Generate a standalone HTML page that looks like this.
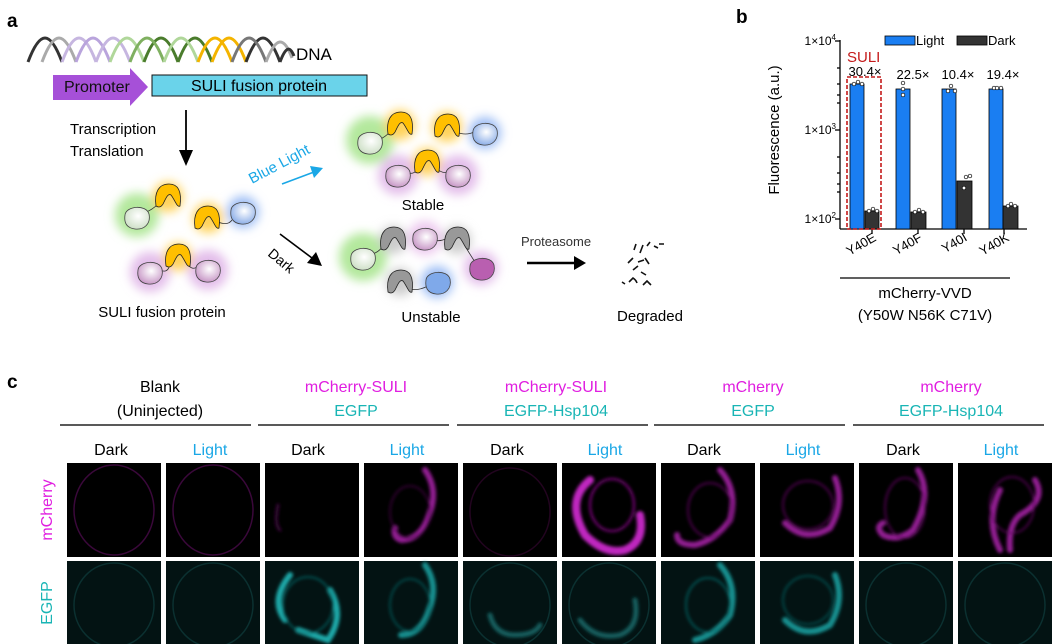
<!DOCTYPE html>
<html><head><meta charset="utf-8"><style>
html,body{margin:0;padding:0;background:#fff}
svg{display:block}
text{font-family:"Liberation Sans",Arial,sans-serif}
</style></head><body>
<svg width="1056" height="644" viewBox="0 0 1056 644" xmlns="http://www.w3.org/2000/svg">
<defs>
<filter id="g" x="-1" y="-1" width="3" height="3"><feGaussianBlur stdDeviation="5"/></filter>
<filter id="b1" x="-1" y="-1" width="3" height="3"><feGaussianBlur stdDeviation="1.5"/></filter>
<radialGradient id="wg" cx="0.55" cy="0.4" r="0.6"><stop offset="0" stop-color="#fff"/><stop offset="1" stop-color="#cfe0c8"/></radialGradient>
<radialGradient id="pg" cx="0.55" cy="0.4" r="0.6"><stop offset="0" stop-color="#fff"/><stop offset="1" stop-color="#c99ac8"/></radialGradient>
<radialGradient id="bg" cx="0.55" cy="0.4" r="0.6"><stop offset="0" stop-color="#fff"/><stop offset="1" stop-color="#8fb0e8"/></radialGradient>
<path id="V" d="M-12,10 C-14,-4 -9,-12 1,-12 C10,-12 14,-5 12,10 C9,12 7,4 3,-1 C0,-3 -2,2 -4,6 C-6,11 -9,12 -12,10Z" stroke="#222" stroke-width="0.8"/>
<path id="C" d="M-12,-2 C-11,-11 9,-13 12,-3 C14,7 7,13 -2,12 C-11,11 -13,5 -12,-2Z" stroke="#444" stroke-width="0.8"/>
</defs>

<text x="7" y="27" font-size="19" font-weight="bold">a</text>
<g fill="none" stroke-width="3">
<path d="M28,62 C40,30 50,30 62,62" stroke="#333"/><path d="M42,62 C54,30 64,30 76,62" stroke="#aaa"/>
<path d="M62,62 C74,30 84,30 96,62" stroke="#c6b6e0"/><path d="M76,62 C88,30 98,30 110,62" stroke="#b9a4dc"/>
<path d="M96,62 C108,30 118,30 130,62" stroke="#c6b6e0"/><path d="M110,62 C122,30 132,30 144,62" stroke="#b0d79a"/>
<path d="M144,62 C156,30 166,30 178,62" stroke="#4a7c2c"/><path d="M130,62 C142,30 152,30 164,62" stroke="#7fb060"/>
<path d="M178,62 C190,30 200,30 212,62" stroke="#4a7c2c"/><path d="M164,62 C176,30 186,30 198,62" stroke="#b0d79a"/>
<path d="M212,62 C224,30 234,30 246,62" stroke="#f4b400"/><path d="M198,62 C210,30 220,30 232,62" stroke="#f4b400"/>
<path d="M246,62 C258,30 268,30 280,62" stroke="#333"/><path d="M232,62 C244,30 254,30 266,62" stroke="#777"/>
<path d="M266,62 C276,36 284,36 292,58" stroke="#aaa"/><path d="M280,62 C286,46 290,46 294,56" stroke="#333"/>
</g>
<text x="296" y="60" font-size="17">DNA</text>
<polygon points="53,75 130,75 130,68 148,87 130,106 130,100 53,100" fill="#a650d8"/>
<text x="64" y="92" font-size="16" fill="#111">Promoter</text>
<rect x="152" y="75" width="215" height="21" fill="#6ad3ea" stroke="#111" stroke-width="1"/>
<text x="259" y="91" font-size="16" text-anchor="middle">SULI fusion protein</text>
<text x="70" y="134" font-size="15">Transcription</text>
<text x="70" y="156" font-size="15">Translation</text>
<line x1="186" y1="110" x2="186" y2="152" stroke="#000" stroke-width="1.8"/><polygon points="179,150 193,150 186,166" fill="#000"/>

<g filter="url(#g)">
<circle cx="137" cy="215" r="22" fill="#b3e89c"/><circle cx="168" cy="197" r="15" fill="#ffd35c"/>
<circle cx="208" cy="218" r="15" fill="#ffd35c"/><circle cx="243" cy="212" r="16" fill="#9dbdf5"/>
<circle cx="150" cy="272" r="20" fill="#e3bdea"/><circle cx="178" cy="257" r="14" fill="#ffd35c"/><circle cx="208" cy="270" r="20" fill="#e3bdea"/>
<circle cx="370" cy="140" r="24" fill="#b3e89c"/><circle cx="400" cy="125" r="15" fill="#ffd35c"/><circle cx="447" cy="127" r="15" fill="#ffd35c"/><circle cx="485" cy="133" r="16" fill="#9dbdf5"/>
<circle cx="398" cy="175" r="20" fill="#e3bdea"/><circle cx="427" cy="162" r="14" fill="#ffd35c"/><circle cx="458" cy="175" r="20" fill="#e3bdea"/>
<circle cx="363" cy="257" r="24" fill="#b3e89c"/><circle cx="393" cy="240" r="14" fill="#ccc"/><circle cx="425" cy="238" r="17" fill="#ecc8ee"/><circle cx="457" cy="240" r="14" fill="#ccc"/><circle cx="481" cy="268" r="17" fill="#e3bdea"/>
<circle cx="400" cy="282" r="14" fill="#ccc"/><circle cx="437" cy="282" r="16" fill="#9dbdf5"/>
</g>
<g>
<path d="M146,212 q6,-2 12,-8 M218,222 q10,4 14,-2 M160,270 q8,4 10,-6 M186,262 q6,10 12,4" stroke="#333" fill="none" stroke-width="0.8"/>
<use href="#C" x="137" y="217" fill="url(#wg)"/><use href="#V" x="168" y="196" fill="#ffbf00"/>
<use href="#V" x="207" y="218" fill="#ffbf00"/><use href="#C" x="243" y="212" fill="url(#bg)"/>
<use href="#C" x="150" y="272" fill="url(#pg)"/><use href="#V" x="178" y="256" fill="#ffbf00"/><use href="#C" x="208" y="270" fill="url(#pg)"/>
<path d="M378,140 q6,-2 12,-8 M456,132 q10,4 18,0 M406,172 q8,4 12,-4 M436,168 q6,6 12,4" stroke="#333" fill="none" stroke-width="0.8"/>
<use href="#C" x="370" y="142" fill="url(#wg)"/><use href="#V" x="400" y="124" fill="#ffbf00"/><use href="#V" x="447" y="126" fill="#ffbf00"/><use href="#C" x="485" y="133" fill="url(#bg)"/>
<use href="#C" x="398" y="175" fill="url(#pg)"/><use href="#V" x="427" y="162" fill="#ffbf00"/><use href="#C" x="458" y="175" fill="url(#pg)"/>
<path d="M372,254 q8,-2 12,-10 M433,240 q8,2 14,-2 M465,246 q6,10 10,16 M408,288 q8,4 20,-2" stroke="#333" fill="none" stroke-width="0.8"/>
<use href="#C" x="363" y="258" fill="url(#wg)"/><use href="#V" x="393" y="239" fill="#999"/><use href="#C" x="425" y="238" fill="url(#pg)"/><use href="#V" x="457" y="239" fill="#999"/>
<use href="#C" x="482" y="268" fill="#b95fb0"/><use href="#V" x="400" y="282" fill="#999"/><use href="#C" x="438" y="282" fill="#7fa9ea"/>
</g>
<text x="162" y="317" font-size="15" text-anchor="middle">SULI fusion protein</text>
<text x="423" y="210" font-size="15" text-anchor="middle">Stable</text>
<text x="431" y="322" font-size="15" text-anchor="middle">Unstable</text>
<text x="0" y="0" font-size="15" fill="#1aa7e6" transform="translate(252,184) rotate(-28)">Blue Light</text>
<line x1="282" y1="184" x2="314" y2="172" stroke="#1aa7e6" stroke-width="1.6"/><polygon points="323,168 310,166 314,178" fill="#1aa7e6"/>
<text x="0" y="0" font-size="14" transform="translate(267,255) rotate(40)">Dark</text>
<line x1="280" y1="234" x2="312" y2="258" stroke="#000" stroke-width="1.6"/><polygon points="322,266 307,263 316,252" fill="#000"/>
<text x="556" y="246" font-size="13" text-anchor="middle" fill="#333">Proteasome</text>
<line x1="527" y1="263" x2="576" y2="263" stroke="#000" stroke-width="2.5"/><polygon points="586,263 574,256 574,270" fill="#000"/>
<g stroke="#111" stroke-width="1.6" fill="none">
<path d="M634,250 l2,-6 M640,253 l3,-8 M647,246 l3,-4 M654,246 l4,2 M659,244 l5,0 M628,263 l5,-5 M638,262 l6,-2 M645,258 l4,6 M633,270 l5,-4 M641,272 l5,3 M629,282 l4,-4 q3,2 4,5 M643,285 l4,-4 l4,4 M622,282 l3,2"/>
</g>
<text x="650" y="321" font-size="15" text-anchor="middle">Degraded</text>

<text x="736" y="23" font-size="19" font-weight="bold">b</text>
<text x="0" y="0" font-size="15" text-anchor="middle" transform="translate(779,130) rotate(-90)">Fluorescence (a.u.)</text>
<g font-size="12" text-anchor="end">
<text x="836" y="45">1×10<tspan font-size="8" dy="-5">4</tspan></text>
<text x="836" y="134">1×10<tspan font-size="8" dy="-5">3</tspan></text>
<text x="836" y="223">1×10<tspan font-size="8" dy="-5">2</tspan></text>
</g>
<g stroke="#000" stroke-width="1.3">
<line x1="840" y1="40" x2="840" y2="229"/><line x1="840" y1="229" x2="1027" y2="229"/>
<line x1="835" y1="41" x2="840" y2="41"/><line x1="835" y1="130" x2="840" y2="130"/><line x1="835" y1="219" x2="840" y2="219"/>
<line x1="837" y1="68" x2="840" y2="68"/><line x1="837" y1="84" x2="840" y2="84"/><line x1="837" y1="95" x2="840" y2="95"/><line x1="837" y1="103" x2="840" y2="103"/><line x1="837" y1="157" x2="840" y2="157"/><line x1="837" y1="173" x2="840" y2="173"/><line x1="837" y1="184" x2="840" y2="184"/><line x1="837" y1="192" x2="840" y2="192"/>
<line x1="872" y1="229" x2="872" y2="234"/><line x1="918" y1="229" x2="918" y2="234"/><line x1="964" y1="229" x2="964" y2="234"/><line x1="1004" y1="229" x2="1004" y2="234"/>
</g>
<g stroke="#000" stroke-width="0.8">
<rect x="850" y="84" width="14" height="145" fill="#1a7ef2"/><rect x="865" y="211" width="14" height="18" fill="#333"/>
<rect x="896" y="89" width="14" height="140" fill="#1a7ef2"/><rect x="911" y="212" width="15" height="17" fill="#333"/>
<rect x="942" y="89" width="14" height="140" fill="#1a7ef2"/><rect x="957" y="181" width="15" height="48" fill="#333"/>
<rect x="989" y="89" width="14" height="140" fill="#1a7ef2"/><rect x="1003" y="206" width="15" height="23" fill="#333"/>
</g>
<g fill="#fff" stroke="#000" stroke-width="0.7">
<circle cx="854" cy="84" r="1.8"/><circle cx="858" cy="82" r="1.8"/><circle cx="862" cy="84" r="1.8"/>
<circle cx="869" cy="211" r="1.8"/><circle cx="873" cy="209" r="1.8"/><circle cx="877" cy="211" r="1.8"/>
<circle cx="903" cy="83" r="1.8"/><circle cx="903" cy="89" r="1.8"/><circle cx="903" cy="95" r="1.8"/>
<circle cx="915" cy="212" r="1.8"/><circle cx="919" cy="210" r="1.8"/><circle cx="923" cy="212" r="1.8"/>
<circle cx="948" cy="91" r="1.8"/><circle cx="951" cy="86" r="1.8"/><circle cx="955" cy="91" r="1.8"/>
<circle cx="964" cy="188" r="1.8"/><circle cx="966" cy="177" r="1.8"/><circle cx="970" cy="176" r="1.8"/>
<circle cx="994" cy="88" r="1.8"/><circle cx="997" cy="88" r="1.8"/><circle cx="1001" cy="88" r="1.8"/>
<circle cx="1008" cy="206" r="1.8"/><circle cx="1011" cy="204" r="1.8"/><circle cx="1015" cy="206" r="1.8"/>
</g>
<rect x="847" y="77" width="34" height="152" fill="none" stroke="#c41a1a" stroke-width="1.6" stroke-dasharray="4,2"/>
<text x="847" y="62" font-size="15" fill="#c41a1a">SULI</text>
<g font-size="13" text-anchor="middle">
<text x="865" y="76">30.4×</text><text x="913" y="79">22.5×</text><text x="958" y="79">10.4×</text><text x="1003" y="79">19.4×</text>
</g>
<rect x="885" y="36" width="30" height="9" fill="#1a7ef2" stroke="#000" stroke-width="0.8"/><text x="916" y="45" font-size="13">Light</text>
<rect x="957" y="36" width="30" height="9" fill="#333" stroke="#000" stroke-width="0.8"/><text x="988" y="45" font-size="13">Dark</text>
<g font-size="13" text-anchor="end">
<text transform="translate(877,240) rotate(-30)">Y40E</text><text transform="translate(923,240) rotate(-30)">Y40F</text>
<text transform="translate(968,240) rotate(-30)">Y40I</text><text transform="translate(1010,240) rotate(-30)">Y40K</text>
</g>
<line x1="840" y1="278" x2="1010" y2="278" stroke="#000" stroke-width="1.3"/>
<text x="925" y="298" font-size="15" text-anchor="middle">mCherry-VVD</text>
<text x="925" y="320" font-size="15" text-anchor="middle">(Y50W N56K C71V)</text>

<text x="7" y="388" font-size="19" font-weight="bold">c</text>
<g font-size="16" text-anchor="middle">
<text x="160" y="392">Blank</text><text x="160" y="416">(Uninjected)</text>
<text x="356" y="392" fill="#e01ee0">mCherry-SULI</text><text x="356" y="416" fill="#19b5b5">EGFP</text>
<text x="556" y="392" fill="#e01ee0">mCherry-SULI</text><text x="556" y="416" fill="#19b5b5">EGFP-Hsp104</text>
<text x="753" y="392" fill="#e01ee0">mCherry</text><text x="753" y="416" fill="#19b5b5">EGFP</text>
<text x="951" y="392" fill="#e01ee0">mCherry</text><text x="951" y="416" fill="#19b5b5">EGFP-Hsp104</text>
</g>
<g stroke="#222" stroke-width="1.6">
<line x1="60" y1="425" x2="251" y2="425"/><line x1="258" y1="425" x2="449" y2="425"/><line x1="457" y1="425" x2="648" y2="425"/><line x1="654" y1="425" x2="845" y2="425"/><line x1="853" y1="425" x2="1044" y2="425"/>
</g>
<g font-size="16" text-anchor="middle">
<text x="111" y="455">Dark</text><text x="210" y="455" fill="#1aa7e6">Light</text>
<text x="308" y="455">Dark</text><text x="407" y="455" fill="#1aa7e6">Light</text>
<text x="507" y="455">Dark</text><text x="605" y="455" fill="#1aa7e6">Light</text>
<text x="704" y="455">Dark</text><text x="803" y="455" fill="#1aa7e6">Light</text>
<text x="903" y="455">Dark</text><text x="1001" y="455" fill="#1aa7e6">Light</text>
</g>
<text transform="translate(52,510) rotate(-90)" font-size="16" text-anchor="middle" fill="#e01ee0">mCherry</text>
<text transform="translate(52,603) rotate(-90)" font-size="16" text-anchor="middle" fill="#19b5b5">EGFP</text>

<g fill="#000">
<rect x="67" y="463" width="94" height="94"/><rect x="166" y="463" width="94" height="94"/><rect x="265" y="463" width="94" height="94"/><rect x="364" y="463" width="94" height="94"/><rect x="463" y="463" width="94" height="94"/><rect x="562" y="463" width="94" height="94"/><rect x="661" y="463" width="94" height="94"/><rect x="760" y="463" width="94" height="94"/><rect x="859" y="463" width="94" height="94"/><rect x="958" y="463" width="94" height="94"/>
</g>
<g fill="#031313">
<rect x="67" y="561" width="94" height="83"/><rect x="166" y="561" width="94" height="83"/><rect x="265" y="561" width="94" height="83"/><rect x="364" y="561" width="94" height="83"/><rect x="463" y="561" width="94" height="83"/><rect x="562" y="561" width="94" height="83"/><rect x="661" y="561" width="94" height="83"/><rect x="760" y="561" width="94" height="83"/><rect x="859" y="561" width="94" height="83"/><rect x="958" y="561" width="94" height="83"/>
</g>
<g fill="none" stroke="#3a083a" stroke-width="1.5">
<ellipse cx="114" cy="510" rx="40" ry="45"/><ellipse cx="213" cy="510" rx="40" ry="45"/><ellipse cx="510" cy="512" rx="40" ry="44" stroke="#22041f"/>
</g>
<g fill="none" stroke-linecap="round" filter="url(#b1)">
<path d="M278,505 q-4,20 2,25" stroke="#3a083a" stroke-width="3"/>
<path d="M425,470 q14,20 4,45 q-8,25 -28,25 q-8,-3 -6,-12" stroke="#901a90" stroke-width="6"/>
<ellipse cx="410" cy="512" rx="20" ry="26" stroke="#400a40" stroke-width="1.5"/>
<path d="M590,480 q-25,20 -5,55 q20,20 40,15 q20,-8 15,-35" stroke="#c025c0" stroke-width="8"/>
<ellipse cx="612" cy="505" rx="22" ry="26" stroke="#801080" stroke-width="2"/>
<path d="M720,470 q18,20 10,50 q-14,20 -35,25 q-18,0 -18,-10" stroke="#901a90" stroke-width="6"/>
<ellipse cx="710" cy="510" rx="22" ry="27" stroke="#601060" stroke-width="1.5"/>
<path d="M835,478 q10,25 -5,50 q-25,15 -45,-5" stroke="#901a90" stroke-width="6"/>
<ellipse cx="808" cy="505" rx="25" ry="24" stroke="#601060" stroke-width="1.5"/>
<path d="M918,470 q15,25 -5,60 q-15,12 -30,5 q-8,-8 0,-12" stroke="#901a90" stroke-width="6"/>
<ellipse cx="905" cy="508" rx="20" ry="30" stroke="#601060" stroke-width="1.5"/>
<path d="M1035,480 q12,20 -15,35 q-12,10 -10,35 M1000,490 q-15,30 0,60" stroke="#901a90" stroke-width="6"/>
<ellipse cx="1012" cy="505" rx="22" ry="28" stroke="#601060" stroke-width="1.5"/>
</g>
<g fill="none" stroke="#0b3030" stroke-width="1.5">
<ellipse cx="114" cy="605" rx="40" ry="42"/><ellipse cx="213" cy="605" rx="40" ry="42"/><ellipse cx="510" cy="605" rx="40" ry="42"/><ellipse cx="609" cy="605" rx="40" ry="42"/><ellipse cx="906" cy="605" rx="40" ry="42"/><ellipse cx="1005" cy="605" rx="40" ry="42"/>
</g>
<g fill="none" stroke-linecap="round" filter="url(#b1)">
<path d="M290,575 q-20,25 -5,45 M330,590 q15,25 -2,50 q-15,-5 -30,-10" stroke="#1aa8a8" stroke-width="6"/>
<ellipse cx="308" cy="605" rx="25" ry="28" stroke="#106868" stroke-width="1.5"/>
<path d="M425,565 q14,20 4,45 q-8,25 -28,25" stroke="#168f8f" stroke-width="6"/>
<ellipse cx="410" cy="605" rx="20" ry="26" stroke="#0d5a5a" stroke-width="1.5"/>
<path d="M490,615 q5,20 25,20 q20,0 25,-10" stroke="#125e5e" stroke-width="5"/>
<path d="M580,620 q15,20 40,15 q20,-8 15,-35" stroke="#125e5e" stroke-width="5"/>
<path d="M720,565 q18,20 10,50 q-14,20 -35,25" stroke="#168f8f" stroke-width="6"/>
<ellipse cx="708" cy="605" rx="22" ry="27" stroke="#0d6868" stroke-width="1.5"/>
<path d="M835,575 q10,25 -5,50 q-25,15 -45,-5" stroke="#168f8f" stroke-width="6"/>
<ellipse cx="808" cy="600" rx="25" ry="24" stroke="#0d5a5a" stroke-width="1.5"/>
</g>
</svg>
</body></html>
